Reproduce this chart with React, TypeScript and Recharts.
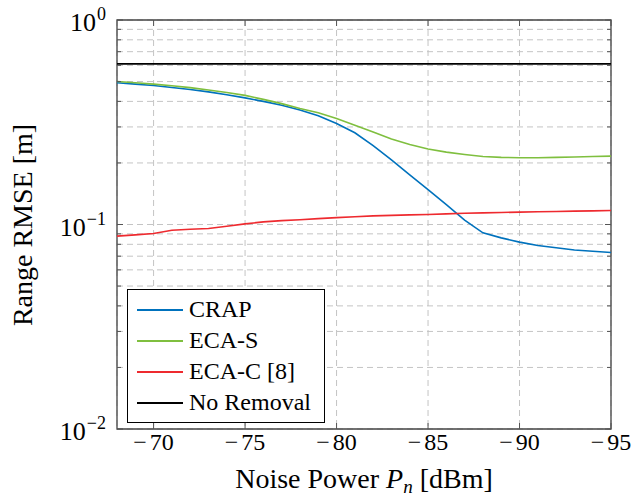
import { LineChart, Line, XAxis, YAxis, CartesianGrid, Legend, ReferenceArea, Label } from 'recharts';

const noisePower = [
  -68, -69, -70, -71, -72, -73, -74, -75, -76, -77, -78, -79, -80, -81,
  -82, -83, -84, -85, -86, -87, -88, -89, -90, -91, -92, -93, -94, -95,
];

const crap = [
  0.493, 0.486, 0.478, 0.468, 0.457, 0.445, 0.431, 0.416, 0.4, 0.383, 0.363, 0.34, 0.312, 0.281,
  0.243, 0.207, 0.175, 0.148, 0.125, 0.105, 0.091, 0.086, 0.082, 0.079, 0.077, 0.075, 0.074, 0.073,
];

const ecaS = [
  0.5, 0.493, 0.486, 0.477, 0.467, 0.455, 0.442, 0.428, 0.409, 0.39, 0.369, 0.352, 0.33, 0.306,
  0.283, 0.262, 0.246, 0.234, 0.226, 0.22, 0.215, 0.213, 0.212, 0.212, 0.213, 0.214, 0.215, 0.216,
];

const ecaC = [
  0.0877, 0.089, 0.0904, 0.0938, 0.0948, 0.0956, 0.098, 0.1007, 0.103, 0.1045, 0.1055, 0.1068, 0.108, 0.1092,
  0.1102, 0.1108, 0.1114, 0.112, 0.1127, 0.1135, 0.114, 0.1145, 0.115, 0.1155, 0.1158, 0.1162, 0.1166, 0.117,
];

const noRemoval = noisePower.map(() => 0.61);

const xTicks = [-70, -75, -80, -85, -90, -95];
const yTicks = [
  0.01, 0.02, 0.03, 0.04, 0.05, 0.06, 0.07, 0.08, 0.09,
  0.1, 0.2, 0.3, 0.4, 0.5, 0.6, 0.7, 0.8, 0.9, 1,
];
const decadeLabels: Record<string, string> = { '0.01': '\u22122', '0.1': '\u22121', '1': '0' };

const series = [
  { key: 'crap', name: 'CRAP', color: '#0072BD' },
  { key: 'ecaS', name: 'ECA-S', color: '#7FBF3F' },
  { key: 'ecaC', name: 'ECA-C [8]', color: '#EE2A2F' },
  { key: 'none', name: 'No Removal', color: '#000000' },
];

const data = noisePower.map((x, i) => ({
  x,
  crap: crap[i],
  ecaS: ecaS[i],
  ecaC: ecaC[i],
  none: noRemoval[i],
}));

const FONT = '"Liberation Serif", "Times New Roman", Times, serif';
const TICK_COLOR = '#555';

// plot box edges (from the margins below)
const LEFT = 117;
const RIGHT = 611;
const TOP = 20;
const BOTTOM = 429;

const XTick = (props: any) => {
  const x = props.x;
  const v = props.payload.value;
  return (
    <g>
      <line x1={x} x2={x} y1={BOTTOM} y2={BOTTOM - 6} stroke={TICK_COLOR} strokeWidth={1} />
      <line x1={x} x2={x} y1={TOP} y2={TOP + 6} stroke={TICK_COLOR} strokeWidth={1} />
      <text x={x} y={BOTTOM + 21} textAnchor="middle" style={{ fontFamily: FONT }} fontSize={24} fill="#000">
        <tspan>{'\u2212'}</tspan>
        <tspan dx={3}>{Math.abs(v)}</tspan>
      </text>
    </g>
  );
};

const YTick = (props: any) => {
  const y = props.y;
  const v = props.payload.value;
  const exp = decadeLabels[String(v)];
  const len = exp ? 6 : 4;
  return (
    <g>
      <line x1={LEFT} x2={LEFT + len} y1={y} y2={y} stroke={TICK_COLOR} strokeWidth={1} />
      <line x1={RIGHT} x2={RIGHT - len} y1={y} y2={y} stroke={TICK_COLOR} strokeWidth={1} />
      {exp && (
        <text x={106} y={y + 11} textAnchor="end" style={{ fontFamily: FONT }} fontSize={26} fill="#000">
          <tspan>10</tspan>
          <tspan dy={-11} dx={1} fontSize={18}>{exp}</tspan>
        </text>
      )}
    </g>
  );
};

const XLabel = () => (
  <text x={(LEFT + RIGHT) / 2} y={488} textAnchor="middle" style={{ fontFamily: FONT }} fontSize={28} fill="#000">
    Noise Power{' '}
    <tspan fontStyle="italic">P</tspan>
    <tspan fontStyle="italic" fontSize={19} dy={5}>n</tspan>
    <tspan dy={-5}>{' '}[dBm]</tspan>
  </text>
);

const YLabel = () => (
  <text
    x={32}
    y={225}
    transform="rotate(-90, 32, 225)"
    textAnchor="middle"
    style={{ fontFamily: FONT }}
    fontSize={28}
    fill="#000"
  >
    Range RMSE [m]
  </text>
);

const LegendBox = () => (
  <div
    style={{
      boxSizing: 'border-box',
      width: 198,
      height: 134,
      border: '1px solid #000',
      background: '#fff',
      paddingTop: 4,
      fontFamily: FONT,
      fontSize: 24,
      color: '#000',
    }}
  >
    {series.map((s) => (
      <div key={s.key} style={{ display: 'flex', alignItems: 'center', height: 31 }}>
        <svg width={46} height={4} style={{ marginLeft: 9 }}>
          <line x1={0} x2={46} y1={2} y2={2} stroke={s.color} strokeWidth={1.8} />
        </svg>
        <span style={{ marginLeft: 6, lineHeight: '31px' }}>{s.name}</span>
      </div>
    ))}
  </div>
);

const App = () => {
  return (
    <div style={{ position: 'absolute', left: 0, top: 0, background: '#fff' }}>
      <LineChart width={635} height={500} data={data} margin={{ top: 20, right: 24, bottom: 31, left: 47 }}>
        <CartesianGrid stroke="#c4c4c4" strokeDasharray="6 4" strokeWidth={1} />
        <XAxis
          dataKey="x"
          type="number"
          domain={[-95, -68]}
          reversed
          ticks={xTicks}
          interval={0}
          height={40}
          axisLine={false}
          tickLine={false}
          tickSize={0}
          tickMargin={0}
          tick={<XTick />}
        >
          <Label content={<XLabel />} />
        </XAxis>
        <YAxis
          scale="log"
          type="number"
          domain={[0.01, 1]}
          ticks={yTicks}
          interval={0}
          width={70}
          axisLine={false}
          tickLine={false}
          tickSize={0}
          tickMargin={0}
          tick={<YTick />}
        >
          <Label content={<YLabel />} />
        </YAxis>
        <ReferenceArea x1={-68} x2={-95} y1={0.01} y2={1} fill="none" stroke="#444" strokeWidth={1.3} />
        {series.map((s) => (
          <Line
            key={s.key}
            type="linear"
            dataKey={s.key}
            name={s.name}
            stroke={s.color}
            strokeWidth={1.6}
            dot={false}
            isAnimationActive={false}
          />
        ))}
        <Legend
          layout="vertical"
          align="center"
          verticalAlign="middle"
          content={<LegendBox />}
          wrapperStyle={{ left: 127, top: 289, width: 198, height: 134 }}
        />
      </LineChart>
    </div>
  );
};

export default App;
